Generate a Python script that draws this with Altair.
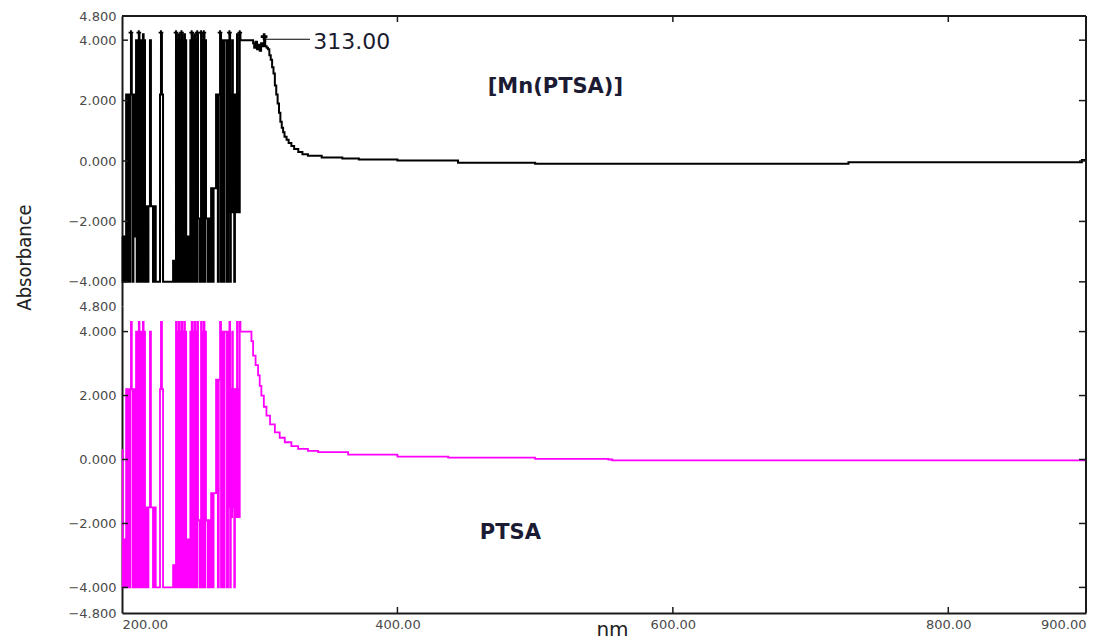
import altair as alt
import pandas as pd

# ---------------- data ----------------
top_nm = [200.0, 200.5, 201.0, 201.5, 202.0, 202.5, 203.0, 203.5, 204.0, 204.5,
          205.0, 205.5, 206.0, 206.5, 207.1, 207.7, 208.3, 209.0, 209.6, 210.2,
          210.7, 211.2, 211.7, 212.2, 212.7, 213.2, 213.7, 214.2, 214.7, 215.2,
          215.7, 216.2, 216.7, 217.4, 218.6, 219.2, 220.3, 221.0, 222.5, 223.5,
          224.5, 227.6, 228.3, 229.0, 229.8, 237.1, 237.6, 238.1, 238.6, 239.2,
          239.7, 240.2, 240.7, 241.2, 241.7, 242.2, 242.7, 243.2, 243.7, 244.2,
          244.7, 245.2, 245.7, 246.2, 246.6, 247.1, 247.6, 248.1, 248.6, 249.1,
          249.6, 250.1, 250.6, 251.1, 251.6, 252.1, 252.6, 253.1, 253.6, 254.1,
          254.6, 255.2, 256.3, 256.8, 257.4, 257.9, 258.4, 258.9, 259.4, 259.9,
          260.4, 261.0, 262.2, 262.8, 264.0, 264.7, 265.8, 266.5, 268.3, 269.6,
          270.3, 271.2, 271.9, 272.6, 273.8, 274.5, 276.2, 277.0, 277.5, 278.0,
          278.5, 279.0, 279.5, 280.0, 280.5, 281.0, 281.5, 282.0, 282.5, 283.0,
          283.5, 284.0, 284.5, 285.0, 285.5, 286.0,
          295.2, 296.0, 297.0, 298.0, 299.0, 300.0, 301.0, 302.0, 303.2,
          304.0, 305.0, 306.0, 307.0, 308.0, 309.0, 310.0, 311.0, 312.0, 313.0,
          314.0, 315.0, 316.0, 317.0, 318.0, 319.5, 321.0, 323.0, 325.0, 328.0,
          331.0, 335.0, 345.0, 360.0, 372.0, 400.0, 444.0, 500.0, 727.5, 893.0,
          897.0, 900.0]
top_abs = [-2.5, -4.0, -2.5, -4.0, -2.5, -4.0, 2.2, -4.0, 2.2, -4.0,
           2.2, -4.0, 2.2, 4.2, 2.2, -4.0, 2.2, -2.5, 2.2, 4.0,
           -4.0, 4.0, -4.0, 4.2, -4.0, 4.0, -4.0, 4.0, -4.0, 4.2,
           -4.0, 4.0, -4.0, -1.5, -4.0, -1.5, 4.0, -1.5, -4.0, -1.5,
           -4.0, 2.2, 4.2, 2.2, -4.0, -3.3, -4.0, -3.3, -4.0, 4.2,
           -4.0, 4.0, -4.0, 4.2, -4.0, 4.0, -4.0, 4.2, -4.0, 4.0,
           -4.0, 4.2, -4.0, 4.0, -4.0, -2.5, -4.0, -2.5, -4.0, -2.5,
           4.0, -4.0, 4.2, -4.0, 4.0, -4.0, 4.2, -4.0, 4.0, -4.0,
           4.2, -1.9, -4.0, -1.9, 4.2, -4.0, 4.0, -4.0, 4.2, -4.0,
           4.0, -1.9, -4.0, -1.9, -4.0, -0.9, -4.0, -0.9, 2.2, -4.0,
           2.2, 4.2, -4.0, 4.0, -4.0, 4.0, -4.0, 4.0, -1.7, 4.2,
           -4.0, 2.2, -1.7, 4.0, -1.7, 2.2, -4.0, 2.2, -1.7, 2.2,
           4.2, -1.7, 2.2, -1.7, 4.2, 4.0,
           3.9, 3.75, 3.95, 3.7, 3.85, 3.65, 3.9, 3.8, 4.05,
           3.8, 3.75, 3.7, 3.5, 3.35, 3.1, 2.9, 2.5, 2.2, 1.9,
           1.6, 1.3, 1.1, 0.95, 0.8, 0.7, 0.6, 0.5, 0.4, 0.3,
           0.22, 0.17, 0.12, 0.08, 0.05, 0.02, -0.06, -0.09, -0.04, -0.04,
           0.03, 0.03]

bot_nm = [200.0, 200.5, 201.0, 201.5, 202.0, 202.5, 203.0, 203.5, 204.0, 204.5,
          205.0, 205.5, 206.0, 206.5, 207.1, 207.7, 208.3, 209.0, 209.6, 210.2,
          210.7, 211.2, 211.7, 212.2, 212.7, 213.2, 213.7, 214.2, 214.7, 215.2,
          215.7, 216.2, 216.7, 217.4, 218.6, 219.2, 220.3, 221.0, 222.5, 223.5,
          224.5, 227.6, 228.3, 229.0, 229.8, 237.1, 237.6, 238.1, 238.6, 239.2,
          239.7, 240.2, 240.7, 241.2, 241.7, 242.2, 242.7, 243.2, 243.7, 244.2,
          244.7, 245.2, 245.7, 246.2, 246.6, 247.1, 247.6, 248.1, 248.6, 249.1,
          249.6, 250.1, 250.6, 251.1, 251.6, 252.1, 252.6, 253.1, 253.6, 254.1,
          254.6, 255.2, 256.3, 256.8, 257.4, 257.9, 258.4, 258.9, 259.4, 259.9,
          260.4, 261.0, 262.2, 262.8, 264.0, 264.7, 265.8, 266.5, 268.3, 269.6,
          270.3, 271.2, 271.9, 272.6, 273.8, 274.5, 276.2, 277.0, 277.5, 278.0,
          278.5, 279.0, 279.5, 280.0, 280.5, 281.0, 281.5, 282.0, 282.5, 283.0,
          283.5, 284.0, 284.5, 285.0, 285.5, 286.0,
          292.8, 294.0, 295.2, 297.0, 298.8, 300.0, 301.2, 303.0, 304.9,
          307.5, 311.0, 314.5, 318.2, 323.0, 327.9, 335.0, 342.4, 364.2, 400.0,
          436.9, 500.0, 553.2, 556.0, 900.0]
bot_abs = [0.3, -4.0, -2.5, -4.0, -2.5, -4.0, 2.2, -4.0, 2.2, -4.0,
           2.2, -4.0, 2.2, 4.3, 2.2, -4.0, 2.2, -4.0, 2.2, 4.0,
           -4.0, 4.0, -4.0, 4.3, -4.0, 4.0, -4.0, 4.0, -4.0, 4.3,
           -4.0, 4.0, -4.0, -1.5, -4.0, -1.5, 4.0, -1.5, -4.0, -1.5,
           -4.0, 2.2, 4.3, 2.2, -4.0, -3.3, -4.0, -3.3, -4.0, 4.3,
           -4.0, 4.0, -4.0, 4.3, -4.0, 4.0, -4.0, 4.3, -4.0, 4.0,
           -4.0, 4.3, -4.0, 4.0, -4.0, -2.5, -4.0, -2.5, -4.0, -2.5,
           4.0, -4.0, 4.3, -4.0, 4.0, -4.0, 4.3, -4.0, 4.0, -4.0,
           4.3, -1.9, -4.0, -1.9, 4.3, -4.0, 4.0, -4.0, 4.3, -4.0,
           4.0, -1.9, -4.0, -1.9, -4.0, -1.05, -4.0, -1.05, 2.5, -4.0,
           2.5, 4.3, -4.0, 4.0, -4.0, 4.0, -4.0, 4.0, -1.5, 4.3,
           -4.0, 2.2, -1.8, 4.0, -1.5, 2.2, -4.0, 2.2, -1.8, 2.2,
           4.3, -1.8, 2.2, -1.8, 4.3, 4.0,
           4.0, 3.7, 3.25, 2.95, 2.63, 2.3, 2.0, 1.65, 1.375,
           1.1, 0.85, 0.68, 0.54, 0.42, 0.33, 0.27, 0.23, 0.15, 0.09,
           0.06, 0.02, 0.0, -0.03, -0.03]

peak_nm = [206.5, 212.2, 228.3, 239.2, 243.2, 250.6, 254.6, 257.4, 259.4,
           271.2, 278.0, 285.5]
peak_abs = [4.25] * len(peak_nm)

marker_nm = [303.2]
marker_abs = [4.12]
annot_start = [303.2]
annot_end = [336.5]
annot_level = [4.03]
annot_text = ["313.00"]
annot_text_nm = [338.8]
annot_text_abs = [3.93]

names = ["[Mn(PTSA)]", "PTSA"]
name_nm = [514.7, 482.0]
name_abs = [2.45, -2.29]

y_label_vals_top = [-4.0, -2.0, 0.0, 2.0, 4.0, 4.8]
y_label_vals_bot = [-4.8, -4.0, -2.0, 0.0, 2.0, 4.0, 4.8]
y_tick_vals = [-4.0, -2.0, 0.0, 2.0, 4.0]
x_tick_vals = [400, 600, 800]
x_label_vals = [200, 400, 600, 800, 900]

# ---------------- layout ----------------
W = 964
H1 = 290
H2 = 307
FRAME = "#1a1a1a"
LABEL_COLOR = "#4a4a4a"

xs = alt.Scale(domain=[200, 900], nice=False, zero=False)
ys = alt.Scale(domain=[-4.8, 4.8], nice=False, zero=False)

yaxis_top = alt.Axis(values=y_label_vals_top, format=".3f", ticks=False,
                     domain=True, domainColor=FRAME, domainWidth=2,
                     grid=False, labelFont="DejaVu Sans", labelFontSize=13,
                     labelColor=LABEL_COLOR, labelPadding=6,
                     title="Absorbance",
                     titleFont="'DejaVu Sans Condensed', 'Liberation Sans', sans-serif",
                     titleFontSize=20, titleFontWeight="normal",
                     titleColor="#222222", titleAngle=270, titleX=-98,
                     titleY=241, titleAlign="center", titleBaseline="middle")
yaxis_bot = alt.Axis(values=y_label_vals_bot, format=".3f", ticks=False,
                     domain=True, domainColor=FRAME, domainWidth=2,
                     grid=False, labelFont="DejaVu Sans", labelFontSize=13,
                     labelColor=LABEL_COLOR, labelPadding=6, title=None)
xaxis_bot = alt.Axis(values=x_label_vals, format=".2f", ticks=False,
                     domain=True, domainColor=FRAME, domainWidth=2,
                     grid=False, labelFont="DejaVu Sans", labelFontSize=13,
                     labelColor=LABEL_COLOR, labelPadding=5,
                     labelAngle=0, title="nm", titleFont="DejaVu Sans",
                     titleFontSize=20, titleFontWeight="normal",
                     titleColor="#222222", titleX=490, titleY=22,
                     titleAlign="center", titleBaseline="alphabetic")


def X(axis):
    return alt.X("nm:Q", scale=xs, axis=axis)


def Y(axis):
    return alt.Y("abs:Q", scale=ys, axis=axis)


def frame_layers(H, yaxis, xaxis, top_border, bottom_ticks):
    layers = []
    df_yt = pd.DataFrame({"abs": y_tick_vals})
    df_xt = pd.DataFrame({"nm": x_tick_vals})
    # right border
    layers.append(alt.Chart(df_yt).mark_rule(color=FRAME, strokeWidth=2).encode(
        x=alt.value(W), y=alt.value(0), y2=alt.value(H)))
    if top_border:
        layers.append(alt.Chart(df_yt).mark_rule(color=FRAME, strokeWidth=2).encode(
            x=alt.value(0), x2=alt.value(W), y=alt.value(0)))
    # inward ticks left and right
    layers.append(alt.Chart(df_yt).mark_rule(color=FRAME, strokeWidth=1.5).encode(
        y=Y(yaxis), x=alt.value(0), x2=alt.value(6)))
    layers.append(alt.Chart(df_yt).mark_rule(color=FRAME, strokeWidth=1.5).encode(
        y=Y(yaxis), x=alt.value(W - 7), x2=alt.value(W)))
    if bottom_ticks:
        layers.append(alt.Chart(df_xt).mark_rule(color=FRAME, strokeWidth=1.5).encode(
            x=X(xaxis), y=alt.value(H - 6), y2=alt.value(H)))
    else:
        layers.append(alt.Chart(df_xt).mark_rule(color=FRAME, strokeWidth=1.5).encode(
            x=X(xaxis), y=alt.value(0), y2=alt.value(6)))
    return layers


# ---------------- top panel ----------------
df_top = pd.DataFrame({"nm": top_nm, "abs": top_abs})
line_top = alt.Chart(df_top).mark_line(
    color="#000000", strokeWidth=2.0, interpolate="step-after").encode(
    x=X(None), y=Y(yaxis_top))

df_pk = pd.DataFrame({"nm": peak_nm, "abs": peak_abs})
peaks = alt.Chart(df_pk).mark_point(
    shape="cross", filled=True, color="#000000", size=22, opacity=1).encode(
    x=X(None), y=Y(yaxis_top))

df_mk = pd.DataFrame({"nm": marker_nm, "abs": marker_abs})
marker = alt.Chart(df_mk).mark_point(
    shape="cross", filled=True, color="#000000", size=45, opacity=1).encode(
    x=X(None), y=Y(yaxis_top))

df_an = pd.DataFrame({"nm": annot_start, "nm2": annot_end, "abs": annot_level})
annot_line = alt.Chart(df_an).mark_rule(color="#000000", strokeWidth=1.2).encode(
    x=X(None), x2="nm2:Q", y=Y(yaxis_top))

df_at = pd.DataFrame({"nm": annot_text_nm, "abs": annot_text_abs, "t": annot_text})
annot_txt = alt.Chart(df_at).mark_text(
    align="left", baseline="middle", font="DejaVu Sans", fontSize=22,
    fontWeight=500, color="#1b1b2f").encode(x=X(None), y=Y(yaxis_top), text="t:N")

df_nm = pd.DataFrame({"nm": name_nm, "abs": name_abs, "t": names})
name_top = alt.Chart(df_nm.iloc[[0]]).mark_text(
    align="center", baseline="middle", font="DejaVu Sans", fontSize=21,
    fontWeight="bold", color="#1b1b33").encode(
    x=X(None), y=Y(yaxis_top), text="t:N")

top = alt.layer(
    line_top, peaks, marker, annot_line, annot_txt, name_top,
    *frame_layers(H1, yaxis_top, None, True, False)
).properties(width=W, height=H1)

# ---------------- bottom panel ----------------
df_bot = pd.DataFrame({"nm": bot_nm, "abs": bot_abs})
line_bot = alt.Chart(df_bot).mark_line(
    color="#ff00ff", strokeWidth=1.8, interpolate="step-after").encode(
    x=X(xaxis_bot), y=Y(yaxis_bot))

name_bot = alt.Chart(df_nm.iloc[[1]]).mark_text(
    align="center", baseline="middle", font="DejaVu Sans", fontSize=21,
    fontWeight="bold", color="#1b1b33").encode(
    x=X(xaxis_bot), y=Y(yaxis_bot), text="t:N")

bottom = alt.layer(
    line_bot, name_bot,
    *frame_layers(H2, yaxis_bot, xaxis_bot, False, True)
).properties(width=W, height=H2)

chart = alt.vconcat(top, bottom, spacing=0, bounds="flush").properties(
    padding={"left": 14, "top": 10, "right": 5, "bottom": 0},
    background="#ffffff"
).configure_view(stroke=None)

chart.save("out.html", embed_options={"renderer": "svg", "actions": False})
